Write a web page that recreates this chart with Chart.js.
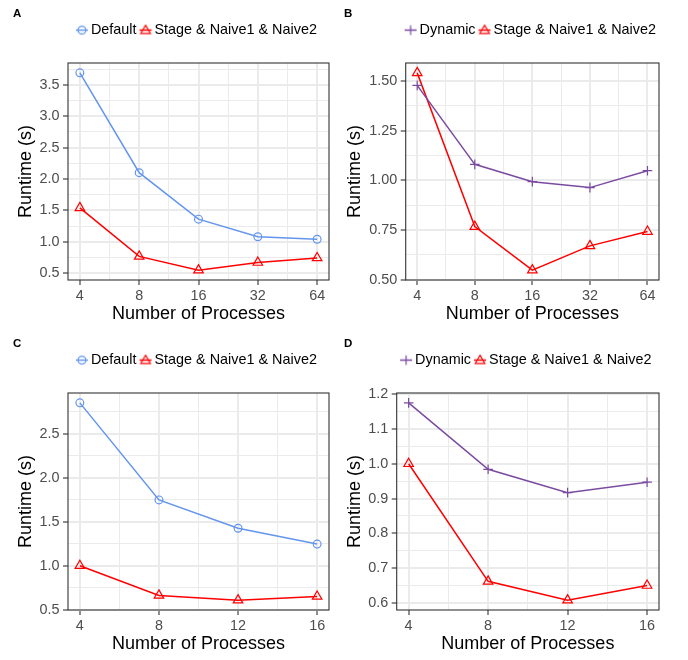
<!DOCTYPE html>
<html>
<head>
<meta charset="utf-8">
<script src="https://cdn.jsdelivr.net/npm/chart.js@4.4.1/dist/chart.umd.min.js"></script>
<style>
  body { margin: 0; background: #fff; }
  #wrap { position: relative; width: 688px; height: 660px; background: #fff; }
  .panel { position: absolute; width: 344px; height: 330px; }
</style>
</head>
<body>
<div id="wrap">
  <div class="panel" style="left:0;top:0"><canvas id="chartA" width="344" height="330"></canvas></div>
  <div class="panel" style="left:344px;top:0"><canvas id="chartB" width="344" height="330"></canvas></div>
  <div class="panel" style="left:0;top:330px"><canvas id="chartC" width="344" height="330"></canvas></div>
  <div class="panel" style="left:344px;top:330px"><canvas id="chartD" width="344" height="330"></canvas></div>
</div>
<script>
// Number of processes on the x axis
const procsAB = [4, 8, 16, 32, 64]
const procsCD = [4, 8, 12, 16]

// Runtimes in seconds
const defaultA = [3.69, 2.10, 1.36, 1.08, 1.04]
const stageA = [1.54, 0.767, 0.548, 0.67, 0.742]
const dynamicB = [1.477, 1.08, 0.993, 0.963, 1.048]
const stageB = [1.54, 0.767, 0.548, 0.67, 0.742]
const defaultC = [2.854, 1.749, 1.426, 1.246]
const stageC = [1.0, 0.662, 0.608, 0.65]
const dynamicD = [1.175, 0.984, 0.917, 0.947]
const stageD = [1.0, 0.662, 0.608, 0.65]

// Major tick labels
const yTicksA = [0.5, 1.0, 1.5, 2.0, 2.5, 3.0, 3.5]
const yTicksB = [0.50, 0.75, 1.00, 1.25, 1.50]
const yTicksC = [0.5, 1.0, 1.5, 2.0, 2.5]
const yTicksD = [0.6, 0.7, 0.8, 0.9, 1.0, 1.1, 1.2]

const blue = "#6495ed"
const red = "#ff0000"
const purple = "#7a4ba0"
const font = "'Liberation Sans', Arial, Helvetica, sans-serif"

Chart.defaults.font.family = font

// ggplot style 5% expansion of the data range
const expand = (values, log) => {
  let lo = Math.min(...values)
  let hi = Math.max(...values)
  if (log) {
    const f = Math.pow(hi / lo, 0.05)
    return [lo / f, hi * f]
  }
  const pad = (hi - lo) * 0.05
  return [lo - pad, hi + pad]
}

// major ticks plus minor ones half way between them
function buildTicks(majors, min, max, log) {
  const n = majors.length
  const step = log ? majors[1] / majors[0] : majors[1] - majors[0]
  const ext = [log ? majors[0] / step : majors[0] - step, ...majors,
    log ? majors[n - 1] * step : majors[n - 1] + step]
  const ticks = []
  for (let i = 0; i < ext.length; i++) {
    if (i > 0) {
      const m = log ? Math.sqrt(ext[i - 1] * ext[i]) : (ext[i - 1] + ext[i]) / 2
      if (m >= min && m <= max) ticks.push({ value: m, minor: true })
    }
    if (ext[i] >= min - 1e-9 && ext[i] <= max) ticks.push({ value: ext[i] })
  }
  return ticks
}

// little line + marker picture for the legend
function legendKey(colour, shape) {
  const c = document.createElement("canvas")
  c.width = 14
  c.height = 12
  const g = c.getContext("2d")
  g.strokeStyle = colour
  g.lineWidth = 1.5
  g.beginPath()
  g.moveTo(1, 6.5)
  g.lineTo(13, 6.5)
  g.stroke()
  g.lineWidth = 1.2
  g.beginPath()
  if (shape === "circle") {
    g.arc(7, 6.5, 3.9, 0, Math.PI * 2)
  } else if (shape === "triangle") {
    g.moveTo(7, 1.6)
    g.lineTo(11.8, 9.8)
    g.lineTo(2.2, 9.8)
    g.closePath()
  } else {
    g.moveTo(2.2, 6.5)
    g.lineTo(11.8, 6.5)
    g.moveTo(7, 1.7)
    g.lineTo(7, 11.3)
  }
  g.stroke()
  return c
}

// frame round the plot area
const panelBorder = {
  id: "panelBorder",
  afterDatasetsDraw(chart) {
    const { ctx, chartArea: a } = chart
    ctx.save()
    ctx.strokeStyle = "#333333"
    ctx.lineWidth = 1.1
    ctx.strokeRect(a.left, a.top, a.right - a.left, a.bottom - a.top)
    ctx.restore()
  },
}

// keep the legend on one row and give it a fixed height
const legendBox = {
  id: "legendBox",
  beforeInit(chart) {
    const fit = chart.legend.fit
    chart.legend.fit = function () {
      const w = this.maxWidth
      this.maxWidth = w + 80
      fit.call(this)
      this.maxWidth = w
      this.width = Math.min(this.width, w)
      this.height = 47.8
    }
  },
  afterLayout(chart) {
    // a bit wider on both sides, same centre
    chart.legend.left -= 30
    chart.legend.right += 30
  },
}

const isMinor = (c) => c.tick && c.tick.minor

function drawPanel(id, p) {
  const [xMin, xMax] = expand(p.procs, p.log)
  const [yMin, yMax] = expand(p.series.flatMap((s) => s.values))
  const keys = p.series.map((s) => legendKey(s.colour, s.shape))

  const grid = {
    color: "#ebebeb",
    lineWidth: (c) => (isMinor(c) ? 1 : 2),
    drawTicks: true,
    tickLength: 5,
    tickWidth: 1.1,
    tickColor: (c) => (isMinor(c) ? "rgba(0,0,0,0)" : "#333333"),
  }

  new Chart(document.getElementById(id), {
    type: "line",
    plugins: [panelBorder, legendBox],
    data: {
      datasets: p.series.map((s) => ({
        label: s.label,
        data: p.procs.map((x, i) => ({ x: x, y: s.values[i] })),
        borderColor: s.colour,
        borderWidth: 1.5,
        pointStyle: s.shape === "plus" ? "cross" : s.shape,
        pointRadius: s.radius,
        pointBorderWidth: 1.2,
        pointBorderColor: s.colour,
        pointBackgroundColor: "rgba(0,0,0,0)",
        fill: false,
        tension: 0,
      })),
    },
    options: {
      responsive: false,
      animation: false,
      events: [],
      layout: {
        autoPadding: false,
        padding: { left: p.padLeft, right: p.padRight, top: 0, bottom: 0 },
      },
      plugins: {
        tooltip: { enabled: false },
        title: {
          display: true,
          text: p.letter,
          align: "start",
          color: "#000",
          font: { size: 11.5, weight: "bold", lineHeight: 1.2 },
          padding: { top: 6.6, bottom: -5.2 },
        },
        legend: {
          fullSize: false,
          labels: {
            usePointStyle: true,
            boxWidth: 3.6,
            padding: 7.2,
            color: "#000",
            font: { size: 14.4 },
            generateLabels: (chart) =>
              Chart.defaults.plugins.legend.labels.generateLabels(chart)
                .map((item, i) => Object.assign(item, { pointStyle: keys[i] })),
          },
        },
      },
      scales: {
        x: {
          type: p.log ? "logarithmic" : "linear",
          bounds: "data",
          min: xMin,
          max: xMax,
          afterBuildTicks: (s) => { s.ticks = buildTicks(p.xTicks, xMin, xMax, p.log) },
          afterFit: (s) => { s.height = 50 },
          border: { display: false },
          grid: grid,
          ticks: {
            autoSkip: false,
            maxRotation: 0,
            padding: 2,
            color: "#4d4d4d",
            font: { size: 14.4 },
            callback: (v, i, t) => (t[i].minor ? "" : String(v)),
          },
          title: {
            display: true,
            text: "Number of Processes",
            color: "#000",
            font: { size: 18 },
            padding: { top: 0, bottom: 5.2 },
          },
        },
        y: {
          type: "linear",
          bounds: "data",
          min: yMin,
          max: yMax,
          afterBuildTicks: (s) => { s.ticks = buildTicks(p.yTicks, yMin, yMax, false) },
          afterFit: (s) => { s.width = p.yWidth },
          border: { display: false },
          grid: grid,
          ticks: {
            autoSkip: false,
            padding: 3.5,
            color: "#4d4d4d",
            font: { size: 14.4 },
            callback: (v, i, t) => (t[i].minor ? "" : v.toFixed(p.decimals)),
          },
          title: {
            display: true,
            text: "Runtime (s)",
            color: "#000",
            font: { size: 18 },
            padding: { top: p.yTitlePad, bottom: 0 },
          },
        },
      },
    },
  })
}

drawPanel("chartA", {
  letter: "A", procs: procsAB, xTicks: procsAB, log: true,
  yTicks: yTicksA, decimals: 1,
  padLeft: 13, padRight: 15, yWidth: 55, yTitlePad: 1.8,
  series: [
    { label: "Default", values: defaultA, colour: blue, shape: "circle", radius: 3.9 },
    { label: "Stage & Naive1 & Naive2", values: stageA, colour: red, shape: "triangle", radius: 5.5 },
  ],
})

drawPanel("chartB", {
  letter: "B", procs: procsAB, xTicks: procsAB, log: true,
  yTicks: yTicksB, decimals: 2,
  padLeft: 0, padRight: 29, yWidth: 61.7, yTitlePad: 0,
  series: [
    { label: "Dynamic", values: dynamicB, colour: purple, shape: "plus", radius: 4.8 },
    { label: "Stage & Naive1 & Naive2", values: stageB, colour: red, shape: "triangle", radius: 5.5 },
  ],
})

drawPanel("chartC", {
  letter: "C", procs: procsCD, xTicks: procsCD, log: false,
  yTicks: yTicksC, decimals: 1,
  padLeft: 13, padRight: 15, yWidth: 55, yTitlePad: 1.8,
  series: [
    { label: "Default", values: defaultC, colour: blue, shape: "circle", radius: 3.9 },
    { label: "Stage & Naive1 & Naive2", values: stageC, colour: red, shape: "triangle", radius: 5.5 },
  ],
})

drawPanel("chartD", {
  letter: "D", procs: procsCD, xTicks: procsCD, log: false,
  yTicks: yTicksD, decimals: 1,
  padLeft: 0, padRight: 29, yWidth: 52.7, yTitlePad: 0,
  series: [
    { label: "Dynamic", values: dynamicD, colour: purple, shape: "plus", radius: 4.8 },
    { label: "Stage & Naive1 & Naive2", values: stageD, colour: red, shape: "triangle", radius: 5.5 },
  ],
})
</script>
</body>
</html>
